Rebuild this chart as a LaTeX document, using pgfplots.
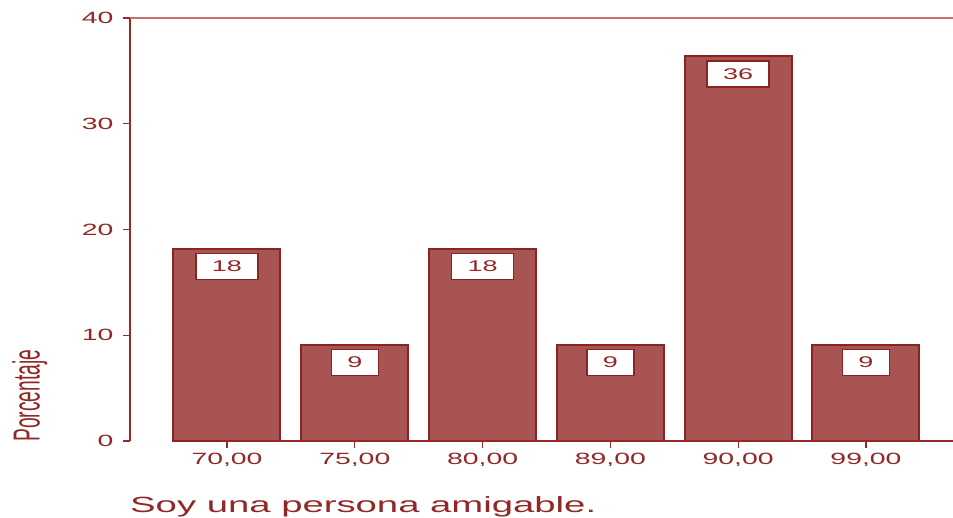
\documentclass[border=0pt]{standalone}
\usepackage{fontspec}
\setmainfont{Liberation Sans}[FakeStretch=1.74]
\newfontfamily\ylfont{Liberation Sans}
\usepackage{pgfplots}
\pgfplotsset{compat=1.18}
\definecolor{barfill}{RGB}{168,84,82}
\definecolor{baredge}{RGB}{139,35,35}
\definecolor{textcol}{RGB}{145,40,40}
\definecolor{axiscol}{RGB}{150,40,40}
\definecolor{topcol}{RGB}{200,110,110}
\begin{document}
\begin{tikzpicture}
\useasboundingbox (0,0) rectangle (953pt,517pt);
\begin{axis}[
  at={(130pt,76pt)}, anchor=south west,
  width=823pt, height=423pt, scale only axis,
  /pgf/number format/assume math mode=true,
  xmin=-0.759, xmax=5.681, ymin=0, ymax=40,
  ybar, bar width=107pt,
  xtick={0,1,2,3,4,5},
  xticklabels={70{,}00,75{,}00,80{,}00,89{,}00,90{,}00,99{,}00},
  ytick={0,10,20,30,40},
  tick align=outside, major tick length=7pt,
  xtick pos=bottom, ytick pos=left,
  tick style={axiscol, line width=1.3pt},
  axis line style={draw=none},
  ticklabel style={font=\fontsize{16.3}{16.3}\selectfont, text=textcol},
  xticklabel style={yshift=-2pt},
  yticklabel style={xshift=-6pt},
  xlabel={\fontsize{22}{22}\selectfont Soy una persona amigable.},
  xlabel style={at={(axis description cs:0,-0.170)}, anchor=base west, inner sep=0pt, text=textcol},
  ylabel={\ylfont\fontsize{37.7}{37.7}\selectfont\scalebox{0.51}[1]{Porcentaje}},
  ylabel style={at={(axis description cs:-0.1098,-0.0024)}, anchor=base west, inner sep=0pt, text=textcol},
  nodes near coords={\pgfmathprintnumber[fixed,precision=0]{\pgfplotspointmeta}},
  every node near coord/.append style={anchor=north, yshift=-4pt, fill=white, draw=baredge, line width=1.5pt, inner xsep=16pt, inner ysep=0pt, minimum height=26pt, text=textcol, font=\fontsize{15.5}{15.5}\selectfont},
  clip=false,
]
\addplot[fill=barfill, draw=baredge, line width=2pt] coordinates {
  (0,18.18) (1,9.09) (2,18.18) (3,9.09) (4,36.36) (5,9.09)
};
\draw[axiscol, line width=1.3pt] (rel axis cs:0,0) ++(-7pt,0) -- (rel axis cs:1,0);
\draw[axiscol, line width=2pt] (rel axis cs:0,0) -- (rel axis cs:0,1);
\draw[topcol, line width=1.5pt] (rel axis cs:0,1) -- (rel axis cs:1,1);
\end{axis}
\end{tikzpicture}
\end{document}
